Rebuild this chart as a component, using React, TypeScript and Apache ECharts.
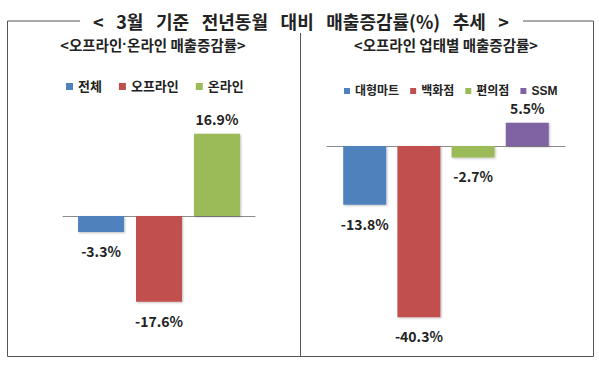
import React, { useEffect, useRef } from "react";
import * as echarts from "echarts";

const leftSeriesNames = ["전체", "오프라인", "온라인"];
const leftValues = [-3.3, -17.6, 16.9];
const rightSeriesNames = ["대형마트", "백화점", "편의점", "SSM"];
const rightValues = [-13.8, -40.3, -2.7, 5.5];
const colors = ["#4F81BD", "#C0504D", "#9BBB59", "#8064A2"];
const titleWords = ["<", "3월", "기준", "전년동월", "대비", "매출증감률(%)", "추세", ">"];
const leftSubtitle = "<오프라인{d|·}온라인 매출증감률>";
const rightSubtitle = "<오프라인 업태별 매출증감률>";

const FONT = "'Noto Sans CJK KR', 'Noto Sans', sans-serif";
const MIX = "'Liberation Sans', 'Noto Sans CJK KR', sans-serif";

export default function App() {
  const ref = useRef<HTMLDivElement>(null);
  useEffect(() => {
    const chart = echarts.init(ref.current!, null, { renderer: "svg" });
    const mkSeries = (names: string[], values: number[], axisIdx: number, barWidth: number, fontSize: number) =>
      names.map((n, i) => ({
        name: n,
        type: "bar",
        xAxisIndex: axisIdx,
        yAxisIndex: axisIdx,
        barWidth,
        barGap: "26%",
        itemStyle: {
          color: colors[i],
          shadowColor: "rgba(0,0,0,0.25)",
          shadowBlur: 2,
          shadowOffsetX: 1,
          shadowOffsetY: 1,
        },
        label: {
          show: true,
          position: values[i] < 0 ? "bottom" : "top",
          distance: values[i] < 0 ? 12 : 8,
          formatter: (p: any) => p.value.toFixed(1) + "%",
          fontFamily: FONT,
          fontWeight: "bold",
          fontSize,
          color: "#222",
        },
        data: [values[i]],
      }));
    const axisLine = { show: true, onZero: true, lineStyle: { color: "#8c8c8c", width: 1 } };
    chart.setOption({
      animation: false,
      backgroundColor: "#fff",
      legend: [
        {
          data: leftSeriesNames,
          left: 61,
          top: 75,
          itemWidth: 7,
          itemHeight: 7,
          itemGap: 17,
          icon: "rect",
          textStyle: { fontFamily: MIX, fontWeight: "bold", fontSize: 13, color: "#222" },
        },
        {
          data: rightSeriesNames,
          left: 339,
          top: 80,
          itemWidth: 6,
          itemHeight: 6,
          itemGap: 11,
          icon: "rect",
          textStyle: { fontFamily: MIX, fontWeight: "bold", fontSize: 12, color: "#222" },
        },
      ],
      grid: [
        { left: 63, width: 192, top: 118.6, height: 194.8 },
        { left: 327, width: 238, top: 103.5, height: 233.75 },
      ],
      xAxis: [
        { type: "category", gridIndex: 0, data: [""], axisLine, axisTick: { show: false }, axisLabel: { show: false } },
        { type: "category", gridIndex: 1, data: [""], axisLine, axisTick: { show: false }, axisLabel: { show: false } },
      ],
      yAxis: [
        { type: "value", gridIndex: 0, min: -20, max: 20, show: false, splitLine: { show: false } },
        { type: "value", gridIndex: 1, min: -45, max: 10, show: false, splitLine: { show: false } },
      ],
      series: [
        ...mkSeries(leftSeriesNames, leftValues, 0, 46, 14),
        ...mkSeries(rightSeriesNames, rightValues, 1, 43, 14),
      ],
      graphic: [
        { type: "polyline", shape: { points: [[80, 21], [7.5, 21], [7.5, 356.5], [593.5, 356.5], [593.5, 21], [523, 21]] }, style: { stroke: "#555", lineWidth: 1, fill: "none" } },
        { type: "line", shape: { x1: 300.5, y1: 33, x2: 300.5, y2: 356 }, style: { stroke: "#555", lineWidth: 1 } },
        { type: "text", x: 301, y: 21, style: { text: titleWords.join("\u2002\u2009"), fontFamily: FONT, fontWeight: "bold", fontSize: 18, fill: "#222", align: "center", verticalAlign: "middle" } },
        { type: "text", x: 153, y: 44, style: { text: leftSubtitle, fontFamily: FONT, fontWeight: "bold", fontSize: 14.5, fill: "#222", align: "center", verticalAlign: "middle", rich: { d: { fontFamily: "'Liberation Sans', sans-serif", fontWeight: "bold", fontSize: 14.5, fill: "#222" } } } },
        { type: "text", x: 446, y: 44, style: { text: rightSubtitle, fontFamily: FONT, fontWeight: "bold", fontSize: 14.5, fill: "#222", align: "center", verticalAlign: "middle" } },
      ],
    });
    return () => chart.dispose();
  }, []);
  return <div ref={ref} style={{ position: "fixed", left: 0, top: 0, width: 599, height: 366 }} />;
}
